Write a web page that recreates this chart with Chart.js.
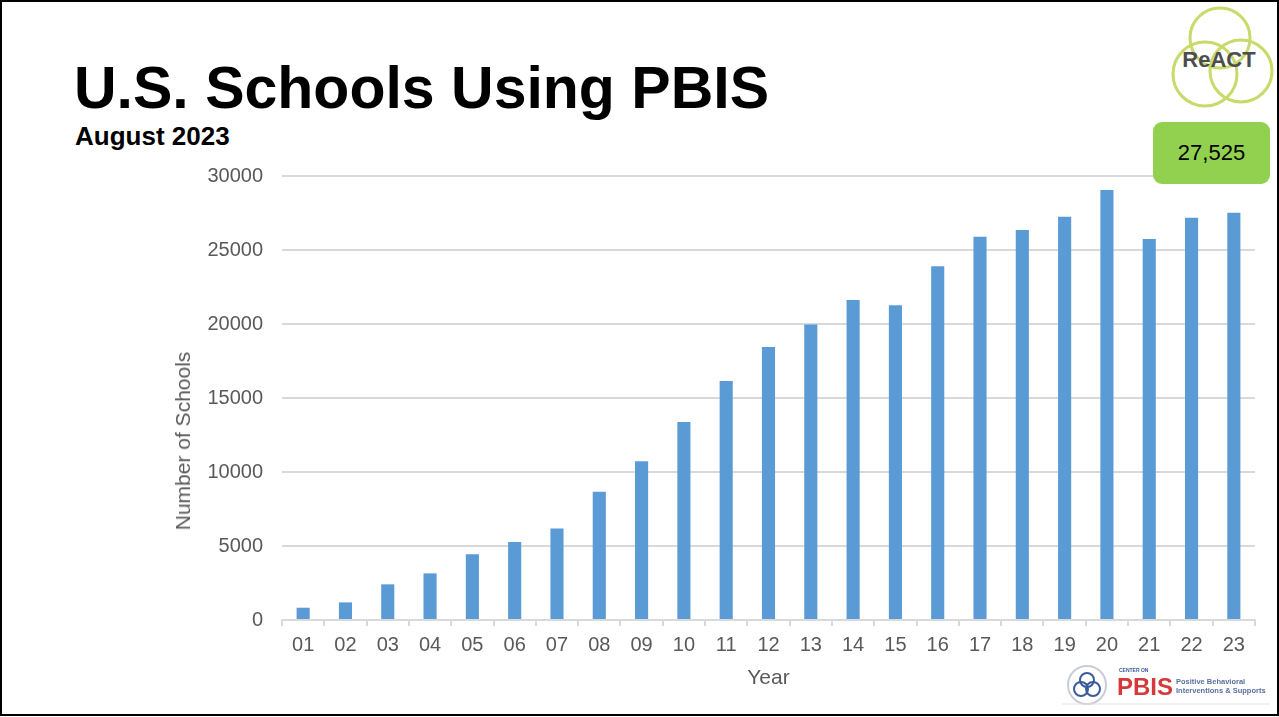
<!DOCTYPE html>
<html>
<head>
<meta charset="utf-8">
<script src="https://cdn.jsdelivr.net/npm/chart.js@4"></script>
<style>
  html, body { margin: 0; padding: 0; background: #fff; }
  body { width: 1279px; height: 717px; overflow: hidden; position: relative; font-family: "Liberation Sans", Arial, sans-serif; }
  .frame { position: absolute; left: 0; top: 0; width: 1279px; height: 716px; box-sizing: border-box; border: 2px solid #000; }
  .title { position: absolute; left: 74px; top: 54px; font-size: 59px; font-weight: bold; color: #000; white-space: nowrap; }
  .subtitle { position: absolute; left: 75px; top: 121px; font-size: 26px; font-weight: bold; color: #000; }
  .callout { position: absolute; left: 1153px; top: 122px; width: 117px; height: 62px; border-radius: 9px; background: #92d050;
             font-size: 22px; color: #000; display: flex; align-items: center; justify-content: center; }
  .ytitle { position: absolute; left: 183px; top: 441px; transform: translate(-50%, -50%) rotate(-90deg);
            font-size: 21px; color: #595959; white-space: nowrap; }
  #wrap { position: absolute; left: 160px; top: 140px; width: 1110px; height: 570px; }
  .logo { position: absolute; }
</style>
</head>
<body>
<div class="frame"></div>
<div class="title">U.S. Schools Using PBIS</div>
<div class="subtitle">August 2023</div>

<!-- ReACT mark -->
<svg class="logo" style="left:1162px; top:4px" width="114" height="108" viewBox="0 0 114 108">
  <g fill="none" stroke="#c8da6a" stroke-width="3">
    <circle cx="58" cy="34" r="30"/>
    <circle cx="43" cy="70" r="32"/>
    <circle cx="79" cy="67" r="31"/>
  </g>
  <text x="57" y="63" text-anchor="middle" font-family="Liberation Sans, Arial" font-weight="bold" font-size="22" fill="#4d4d4d">ReACT</text>
</svg>

<div id="wrap"><canvas id="schools"></canvas></div>
<div class="ytitle">Number of Schools</div>

<div class="callout">27,525</div>

<!-- Center on PBIS mark -->
<svg class="logo" style="left:1062px; top:662px" width="210" height="46" viewBox="0 0 210 46">
  <circle cx="25" cy="23" r="19" fill="none" stroke="#c9ccd6" stroke-width="2"/>
  <g fill="none" stroke="#3a5a9c" stroke-width="2">
    <circle cx="25" cy="18" r="7"/>
    <circle cx="19" cy="27" r="7"/>
    <circle cx="31" cy="27" r="7"/>
  </g>
  <text x="57" y="10" font-family="Liberation Sans, Arial" font-weight="bold" font-size="5" fill="#3a5a9c">CENTER ON</text>
  <text x="55" y="33" font-family="Liberation Sans, Arial" font-weight="bold" font-size="24" fill="#d43a3a">PBIS</text>
  <text x="114" y="22" font-family="Liberation Sans, Arial" font-weight="bold" font-size="7.5" fill="#5a6fa0">Positive Behavioral</text>
  <text x="114" y="31" font-family="Liberation Sans, Arial" font-weight="bold" font-size="7.5" fill="#5a6fa0">Interventions &amp; Supports</text>
  <line x1="0" y1="42" x2="208" y2="42" stroke="#e3e3e3" stroke-width="1"/>
</svg>

<script>
// school years, two-digit labels
var years = ['01','02','03','04','05','06','07','08','09','10','11','12',
             '13','14','15','16','17','18','19','20','21','22','23'];
// number of schools implementing PBIS each year
var schoolCounts = [830, 1190, 2410, 3150, 4440, 5270, 6180, 8670, 10720, 13370, 16150, 18440,
                    19960, 21620, 21260, 23900, 25900, 26350, 27250, 29050, 25750, 27180, 27525];
var yTicks = [0, 5000, 10000, 15000, 20000, 25000, 30000];

var axisFont = { family: 'Liberation Sans, Arial, sans-serif', size: 20 };

new Chart('schools', {
    type: 'bar',
    data: {
        labels: years,
        datasets: [{
            label: 'Number of Schools',
            data: schoolCounts,
            backgroundColor: '#5b9bd5',
            borderWidth: 0,
            categoryPercentage: 1,
            barPercentage: 0.31
        }]
    },
    options: {
        responsive: true,
        maintainAspectRatio: false,
        animation: false,
        layout: { padding: { top: 36, right: 15, left: 0, bottom: 0 } },
        plugins: { legend: { display: false }, tooltip: { enabled: false } },
        scales: {
            x: {
                offset: true,
                grid: { drawOnChartArea: false, drawTicks: true, tickLength: 6, color: '#d9d9d9', lineWidth: 2 },
                border: { color: '#d9d9d9', width: 2 },
                ticks: { color: '#595959', font: axisFont, padding: 7, maxRotation: 0, autoSkip: false },
                title: { display: true, text: 'Year', color: '#595959', font: { family: 'Liberation Sans, Arial, sans-serif', size: 21 }, padding: { top: 0, bottom: 19 } },
                afterFit: function (scale) { scale.height = 90; }
            },
            y: {
                min: 0,
                max: 30000,
                afterBuildTicks: function (scale) {
                    scale.ticks = yTicks.map(function (v) { return { value: v }; });
                },
                grid: { drawTicks: false, color: '#d9d9d9', lineWidth: 2 },
                border: { display: false },
                ticks: {
                    color: '#595959', font: axisFont, padding: 19,
                    callback: function (value) { return String(value); }
                },
                afterFit: function (scale) { scale.width = 122; }
            }
        }
    }
});
</script>
</body>
</html>
